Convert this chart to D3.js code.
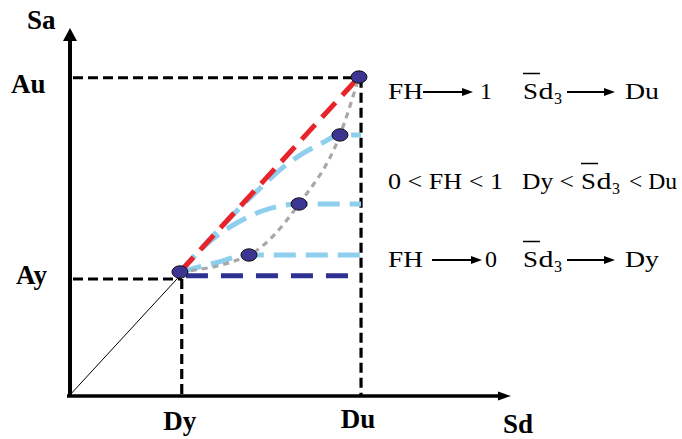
<!DOCTYPE html>
<html><head><meta charset="utf-8">
<script src="https://cdn.jsdelivr.net/npm/d3@7"></script>
<style>html,body{margin:0;padding:0;background:#fff;}svg{display:block;}</style>
</head><body>
<script>
// ---- data ----
const xTickLabels = ["Dy", "Du"];
const xTickValues = [1.0, 2.59];
const yTickLabels = ["Ay", "Au"];
const yTickValues = [1.0, 2.72];
const axisLabels = ["Sd", "Sa"];
// capacity points (dots)
const pointX = [0.984, 1.596, 2.04, 2.403, 2.572];
const pointY = [1.06, 1.205, 1.641, 2.231, 2.726];
// hysteretic curves (light blue)
const curveUpperX = [0.984, 1.605, 1.96, 2.244, 2.403, 2.59];
const curveUpperY = [1.06, 1.692, 2.0, 2.162, 2.231, 2.231];
const curveMidX = [0.984, 1.242, 1.472, 1.712, 2.04, 2.59];
const curveMidY = [1.06, 1.316, 1.47, 1.581, 1.641, 1.641];
const curveLowX = [0.984, 1.295, 1.596, 2.59];
const curveLowY = [1.06, 1.137, 1.205, 1.205];
// elastic-perfectly-plastic line (navy)
const flatX = [0.984, 2.59];
const flatY = [1.028, 1.028];
// text rows
const rowCondFH = ["FH", "0 < FH < 1", "FH"];
const rowCondVal = ["1", "", "0"];
const rowLimit = ["Du", "", "Dy"];

const W = 682, H = 439;
const svg = d3.select("body").append("svg").attr("width", W).attr("height", H);

const x = d3.scaleLinear().domain([0, 3.92]).range([69, 511]);
const y = d3.scaleLinear().domain([0, 3.145]).range([396, 28]);

const serif = "'Liberation Serif', 'Times New Roman', serif";

// ---- reference dashed lines ----
const blackDash = "10,5";
function dashed(x1, y1, x2, y2) {
  svg.append("line").attr("x1", x1).attr("y1", y1).attr("x2", x2).attr("y2", y2)
    .attr("stroke", "#000").attr("stroke-width", 3.2).attr("stroke-dasharray", blackDash);
}
dashed(x(0) + 4, y(yTickValues[1]), x(xTickValues[1]), y(yTickValues[1]));
dashed(x(xTickValues[1]), y(yTickValues[1]), x(xTickValues[1]), y(0));
dashed(x(0) + 4, y(yTickValues[0]), x(xTickValues[0]), y(yTickValues[0]));
dashed(x(xTickValues[0]), y(yTickValues[0]), x(xTickValues[0]), y(0));

// thin elastic line
svg.append("line").attr("x1", x(0)).attr("y1", y(0)).attr("x2", x(pointX[0])).attr("y2", y(flatY[0]))
  .attr("stroke", "#000").attr("stroke-width", 1);

// ---- axes ----
svg.append("line").attr("x1", x(0) + 1).attr("y1", y(0) + 1).attr("x2", x(0) + 1).attr("y2", y(3.145) + 10)
  .attr("stroke", "#000").attr("stroke-width", 4);
svg.append("path").attr("d", `M${x(0)+1},${y(3.145)} L${x(0)-6},${y(3.145)+13} L${x(0)+8},${y(3.145)+13} Z`).attr("fill", "#000");
svg.append("line").attr("x1", x(0) - 2).attr("y1", y(0)).attr("x2", x(3.92) - 8).attr("y2", y(0))
  .attr("stroke", "#000").attr("stroke-width", 3.4);
svg.append("path").attr("d", `M${x(3.92)},${y(0)} L${x(3.92)-13},${y(0)-4.5} L${x(3.92)-13},${y(0)+4.5} Z`).attr("fill", "#000");

// ---- navy flat line ----
const line = d3.line().x(d => x(d[0])).y(d => y(d[1]));
svg.append("path").attr("d", line(d3.zip(flatX, flatY))).attr("fill", "none")
  .attr("stroke", "#2e3192").attr("stroke-width", 5).attr("stroke-dasharray", "22,13").attr("stroke-dashoffset", -6);

// ---- light blue curves ----
const curve = d3.line().x(d => x(d[0])).y(d => y(d[1])).curve(d3.curveMonotoneX);
[[curveUpperX, curveUpperY], [curveMidX, curveMidY], [curveLowX, curveLowY]].forEach(([cx, cy]) => {
  svg.append("path").attr("d", curve(d3.zip(cx, cy))).attr("fill", "none")
    .attr("stroke", "#8ecfee").attr("stroke-width", 5).attr("stroke-dasharray", "22,10");
});

// ---- red straight dashed line ----
svg.append("path").attr("d", line([[pointX[0], pointY[0]], [pointX[4], pointY[4]]])).attr("fill", "none")
  .attr("stroke", "#e8242a").attr("stroke-width", 5).attr("stroke-dasharray", "20,10");

// ---- gray capacity curve ----
svg.append("path").attr("d", curve(d3.zip(pointX, pointY))).attr("fill", "none")
  .attr("stroke", "#a8a8a8").attr("stroke-width", 3.2).attr("stroke-dasharray", "6,5");

// ---- dots ----
svg.selectAll("ellipse.pt").data(d3.zip(pointX, pointY)).join("ellipse").attr("class", "pt")
  .attr("cx", d => x(d[0])).attr("cy", d => y(d[1])).attr("rx", 8).attr("ry", 6.2)
  .attr("fill", "#3c3591").attr("stroke", "#111").attr("stroke-width", 1);

// ---- bold labels ----
function bold(t, xx, yy, anchor) {
  svg.append("text").attr("x", xx).attr("y", yy).attr("text-anchor", anchor || "start")
    .attr("font-family", serif).attr("font-weight", "bold").attr("font-size", 27).attr("fill", "#000").text(t);
}
bold(axisLabels[1], 27, 29);
bold(axisLabels[0], 503, 433);
bold(yTickLabels[1], 11, 93);
bold(yTickLabels[0], 16, 284);
bold(xTickLabels[0], x(xTickValues[0]) - 2, 430, "middle");
bold(xTickLabels[1], x(xTickValues[1]) - 3, 428, "middle");

// ---- right-hand text ----
const fs = 24;
function txt(t, xx, yy, len, size) {
  const el = svg.append("text").attr("x", xx).attr("y", yy).attr("font-family", serif)
    .attr("font-size", size || fs).attr("fill", "#000").text(t);
  if (len) el.attr("textLength", len).attr("lengthAdjust", "spacingAndGlyphs");
  return el;
}
function arrow(x1, x2, yy) {
  svg.append("line").attr("x1", x1).attr("y1", yy).attr("x2", x2 - 8).attr("y2", yy)
    .attr("stroke", "#000").attr("stroke-width", 1.8);
  svg.append("path").attr("d", `M${x2},${yy} L${x2-11},${yy-4} L${x2-11},${yy+4} Z`).attr("fill", "#000");
}
function sd3(xx, yy) {
  txt("S", xx, yy, 15);
  txt("d", xx + 15.5, yy, 15);
  txt("3", xx + 31, yy + 5, 8, 17);
  svg.append("line").attr("x1", xx).attr("x2", xx + 17).attr("y1", yy - 25.5).attr("y2", yy - 25.5)
    .attr("stroke", "#000").attr("stroke-width", 1.5);
}
// row 1
const r1 = 99, r2 = 189, r3 = 267;
txt(rowCondFH[0], 388, r1, 35);
arrow(423, 473, r1 - 7);
txt(rowCondVal[0], 480, r1);
sd3(523, r1);
arrow(567, 615, r1 - 7);
txt(rowLimit[0], 625, r1, 34);
// row 2
txt(rowCondFH[1], 388, r2, 115);
txt("Dy <", 522, r2, 52);
sd3(581, r2);
txt("< Du", 629, r2, 48);
// row 3
txt(rowCondFH[2], 388, r3, 35);
arrow(432, 482, r3 - 7);
txt(rowCondVal[2], 485, r3);
sd3(523, r3);
arrow(567, 615, r3 - 7);
txt(rowLimit[2], 625, r3, 34);
</script>
</body></html>
